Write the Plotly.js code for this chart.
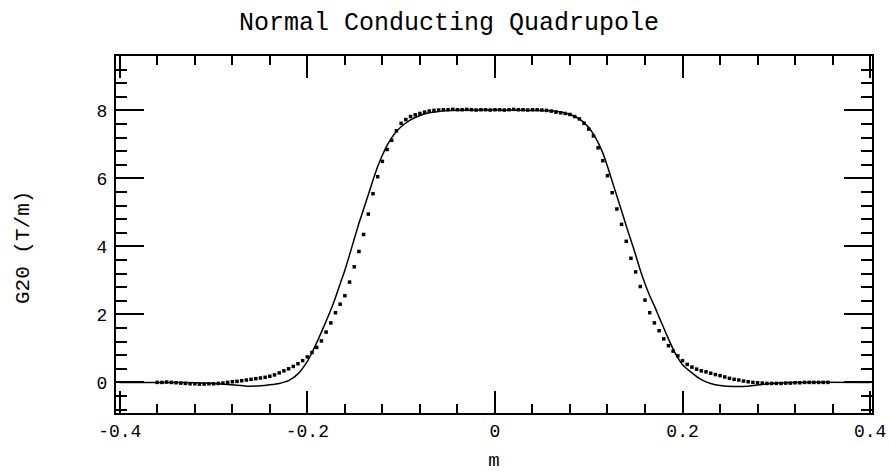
<!DOCTYPE html>
<html>
<head>
<meta charset="utf-8">
<script src="https://cdn.plot.ly/plotly-3.0.1.min.js"></script>
<style>html,body{margin:0;padding:0;background:#fff;}#chart{width:889px;height:473px;}</style>
</head>
<body>
<div id="chart"></div>
<script>
// Model curve (solid line)
const modelX = [-0.400,-0.340,-0.320,-0.300,-0.280,-0.265,-0.250,-0.240,-0.230,-0.220,-0.210,-0.200,-0.195,-0.190,-0.185,-0.180,-0.175,-0.170,-0.165,-0.160,-0.155,-0.150,-0.145,-0.140,-0.135,-0.130,-0.125,-0.120,-0.115,-0.110,-0.105,-0.100,-0.090,-0.080,-0.070,-0.060,-0.050,0.000,0.050,0.060,0.070,0.080,0.090,0.100,0.105,0.110,0.115,0.120,0.125,0.130,0.135,0.140,0.145,0.150,0.155,0.160,0.165,0.170,0.175,0.180,0.185,0.190,0.195,0.200,0.210,0.220,0.230,0.240,0.255,0.270,0.285,0.300,0.320,0.400];
const modelY = [0,0,-0.01,-0.03,-0.07,-0.11,-0.10,-0.07,-0.03,0.05,0.25,0.62,0.88,1.17,1.48,1.80,2.13,2.50,2.90,3.30,3.75,4.22,4.68,5.10,5.52,5.95,6.35,6.68,6.97,7.20,7.38,7.52,7.72,7.85,7.93,7.97,8.00,8.01,8.00,7.99,7.95,7.88,7.75,7.50,7.30,7.05,6.75,6.35,5.92,5.48,5.05,4.60,4.18,3.75,3.30,2.90,2.55,2.25,1.92,1.60,1.28,0.98,0.72,0.52,0.28,0.08,-0.03,-0.09,-0.12,-0.11,-0.06,-0.02,0,0];

// Measured points (dots)
const measX = [-0.360,-0.355,-0.350,-0.345,-0.340,-0.335,-0.330,-0.325,-0.320,-0.315,-0.310,-0.305,-0.300,-0.295,-0.290,-0.285,-0.280,-0.275,-0.270,-0.265,-0.260,-0.255,-0.250,-0.245,-0.240,-0.235,-0.230,-0.225,-0.220,-0.215,-0.210,-0.205,-0.200,-0.195,-0.190,-0.185,-0.180,-0.175,-0.170,-0.165,-0.160,-0.155,-0.150,-0.145,-0.140,-0.135,-0.130,-0.125,-0.120,-0.115,-0.110,-0.105,-0.100,-0.095,-0.090,-0.085,-0.080,-0.075,-0.070,-0.065,-0.060,-0.055,-0.050,-0.045,-0.040,-0.035,-0.030,-0.025,-0.020,-0.015,-0.010,-0.005,0.000,0.005,0.010,0.015,0.020,0.025,0.030,0.035,0.040,0.045,0.050,0.055,0.060,0.065,0.070,0.075,0.080,0.085,0.090,0.095,0.100,0.105,0.110,0.115,0.120,0.125,0.130,0.135,0.140,0.145,0.150,0.155,0.160,0.165,0.170,0.175,0.180,0.185,0.190,0.195,0.200,0.205,0.210,0.215,0.220,0.225,0.230,0.235,0.240,0.245,0.250,0.255,0.260,0.265,0.270,0.275,0.280,0.285,0.290,0.295,0.300,0.305,0.310,0.315,0.320,0.325,0.330,0.335,0.340,0.345,0.350,0.355];
const measY = [0.00,0.00,0.01,0.00,-0.01,-0.02,-0.03,-0.04,-0.04,-0.05,-0.05,-0.04,-0.04,-0.03,-0.02,0.00,0.02,0.03,0.05,0.07,0.09,0.11,0.13,0.15,0.18,0.22,0.28,0.34,0.40,0.47,0.55,0.64,0.75,0.88,1.03,1.22,1.48,1.75,2.05,2.30,2.55,2.95,3.40,3.85,4.35,4.95,5.55,6.05,6.50,6.85,7.12,7.40,7.62,7.73,7.82,7.87,7.91,7.95,7.98,8.00,8.01,8.02,8.02,8.03,8.02,8.02,8.03,8.02,8.01,8.02,8.02,8.01,8.02,8.02,8.01,8.02,8.03,8.02,8.02,8.01,8.02,8.02,8.01,8.00,7.98,7.95,7.93,7.91,7.88,7.82,7.75,7.62,7.45,7.25,6.90,6.52,6.08,5.58,5.10,4.65,4.15,3.65,3.25,2.82,2.42,2.05,1.75,1.52,1.28,1.08,0.92,0.78,0.64,0.53,0.45,0.39,0.34,0.31,0.27,0.23,0.20,0.16,0.12,0.09,0.07,0.04,0.02,0.00,-0.01,-0.02,-0.03,-0.03,-0.03,-0.03,-0.02,-0.02,-0.01,-0.01,0.00,0.00,0.00,0.00,0.00,0.00];

// Tick labels and tick positions
const xTickVals = [-0.4, -0.2, 0, 0.2, 0.4];
const xTickText = ['-0.4', '-0.2', '0', '0.2', '0.4'];
const yTickVals = [0, 2, 4, 6, 8];
const yTickText = ['0', '2', '4', '6', '8'];
const xMinorVals = [-0.36,-0.32,-0.28,-0.24,-0.16,-0.12,-0.08,-0.04,0.04,0.08,0.12,0.16,0.24,0.28,0.32,0.36];
const yMinorVals = [-0.8,-0.4,0.4,0.8,1.2,1.6,2.4,2.8,3.2,3.6,4.4,4.8,5.2,5.6,6.4,6.8,7.2,7.6,8.4,8.8,9.2];

const FONT = "Liberation Mono, DejaVu Sans Mono, monospace";
const XR = [-0.404, 0.402];
const YR = [-0.9, 9.6];

const traces = [
  {x: modelX, y: modelY, mode: 'lines', type: 'scatter',
   line: {color: '#000', width: 1.5, shape: 'spline', smoothing: 0.6}, hoverinfo: 'skip'},
  {x: measX, y: measY, mode: 'markers', type: 'scatter',
   marker: {symbol: 'square', size: 3.5, color: '#000'}, hoverinfo: 'skip'},
  {x: [], y: [], xaxis: 'x2', yaxis: 'y', type: 'scatter', mode: 'markers', hoverinfo: 'skip'},
  {x: [], y: [], xaxis: 'x', yaxis: 'y2', type: 'scatter', mode: 'markers', hoverinfo: 'skip'},
  {x: [], y: [], xaxis: 'x3', yaxis: 'y', type: 'scatter', mode: 'markers', hoverinfo: 'skip'},
  {x: [], y: [], xaxis: 'x', yaxis: 'y3', type: 'scatter', mode: 'markers', hoverinfo: 'skip'}
];

const tickAxis = (over, anchor, side, range, vals, len) => ({
  overlaying: over, anchor: anchor, side: side, range: range, tickvals: vals,
  ticks: 'inside', ticklen: len, tickwidth: 2, tickcolor: '#000', mirror: 'ticks',
  showline: false, showgrid: false, zeroline: false, showticklabels: false
});

const layout = {
  width: 889, height: 473,
  margin: {l: 116, r: 17, t: 56, b: 60},
  paper_bgcolor: '#fff', plot_bgcolor: '#fff',
  showlegend: false,
  font: {family: FONT, color: '#000', size: 18},
  title: {text: 'Normal Conducting Quadrupole', font: {family: FONT, size: 25, color: '#000'},
          x: 0.505, xanchor: 'center', y: 0.955, yanchor: 'middle', yref: 'container'},
  xaxis: {
    range: XR, tickvals: xTickVals, ticktext: xTickText,
    ticks: 'inside', ticklen: 22, tickwidth: 2, tickcolor: '#000',
    showline: true, linecolor: '#000', linewidth: 2, mirror: true,
    showgrid: false, zeroline: false,
    tickfont: {family: FONT, size: 18, color: '#000'},
    title: {text: 'm', font: {family: FONT, size: 19, color: '#000'}, standoff: 12}
  },
  yaxis: {
    range: YR, tickvals: yTickVals, ticktext: yTickText,
    ticks: 'inside', ticklen: 28, tickwidth: 2, tickcolor: '#000',
    showline: true, linecolor: '#000', linewidth: 2, mirror: true,
    showgrid: false, zeroline: false,
    tickfont: {family: FONT, size: 18, color: '#000'},
    ticklabelstandoff: 3
  },
  xaxis2: tickAxis('x', 'y', 'bottom', XR, xMinorVals, 9),
  yaxis2: tickAxis('y', 'x', 'left', YR, yMinorVals, 11),
  xaxis3: tickAxis('x', 'y', 'bottom', XR, xTickVals, 22),
  yaxis3: tickAxis('y', 'x', 'left', YR, yTickVals, 28),
  annotations: [{
    text: 'G20 (T/m)', xref: 'paper', yref: 'paper', x: -0.123, y: 0.462,
    xanchor: 'center', yanchor: 'middle', textangle: -90, showarrow: false,
    font: {family: FONT, size: 21, color: '#000'}
  }]
};

Plotly.newPlot('chart', traces, layout, {staticPlot: true, displayModeBar: false});
</script>
</body>
</html>
